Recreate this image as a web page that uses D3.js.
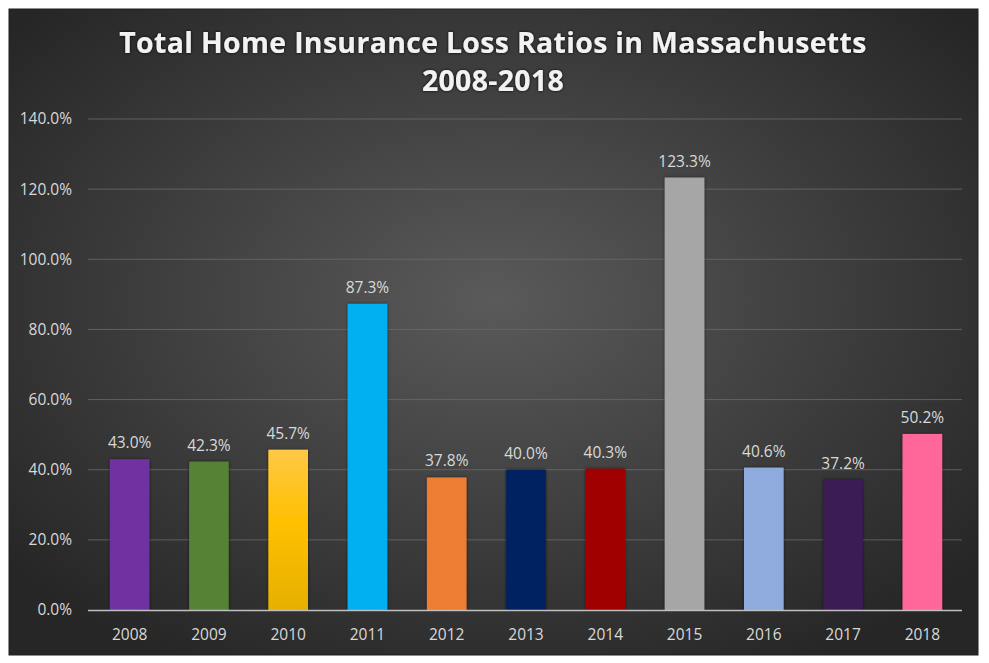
<!DOCTYPE html>
<html><head><meta charset="utf-8">
<script src="https://cdn.jsdelivr.net/npm/d3@7"></script>
<style>
html,body{margin:0;padding:0;background:#fff;}
svg{display:block;}
</style></head>
<body>
<svg id="chart" width="989" height="663"></svg>
<script>
const categories = ["2008","2009","2010","2011","2012","2013","2014","2015","2016","2017","2018"];
const values = [43.0, 42.3, 45.7, 87.3, 37.8, 40.0, 40.3, 123.3, 40.6, 37.2, 50.2];
const barColors = ["#7030a0","#548235","#ffc000","#00b0f0","#ed7d31","#002060","#a00000","#a6a6a6","#8faadc","#3b1a54","#ff6699"];
const yTicks = [0,20,40,60,80,100,120,140];
const titleLines = ["Total Home Insurance Loss Ratios in Massachusetts","2008-2018"];

const svg = d3.select("#chart");
const defs = svg.append("defs");
const bg = defs.append("radialGradient").attr("id","bg").attr("cx","50%").attr("cy","45%").attr("r","65%");
bg.append("stop").attr("offset","0%").attr("stop-color","#5a5a5a");
bg.append("stop").attr("offset","100%").attr("stop-color","#262626");
const gold = defs.append("linearGradient").attr("id","gold").attr("x1",0).attr("y1",0).attr("x2",0).attr("y2",1);
gold.append("stop").attr("offset","0%").attr("stop-color","#ffc845");
gold.append("stop").attr("offset","45%").attr("stop-color","#ffc000");
gold.append("stop").attr("offset","100%").attr("stop-color","#e6b000");
const sh = defs.append("filter").attr("id","shadow").attr("x","-20%").attr("y","-20%").attr("width","140%").attr("height","140%");
sh.append("feDropShadow").attr("dx",0).attr("dy",0).attr("stdDeviation",1.5).attr("flood-color","#000").attr("flood-opacity",0.6);
const tsh = defs.append("filter").attr("id","tshadow").attr("x","-5%").attr("y","-30%").attr("width","110%").attr("height","160%");
tsh.append("feDropShadow").attr("dx",0).attr("dy",0).attr("stdDeviation",1.6).attr("flood-color","#000").attr("flood-opacity",0.95);

svg.append("rect").attr("x",9).attr("y",9).attr("width",969).attr("height",646)
  .attr("fill","url(#bg)").attr("stroke","#1e1e1e").attr("stroke-width",1);

const x = d3.scaleBand().domain(categories).range([90,962]).paddingInner(0.5).paddingOuter(0.25);
const y = d3.scaleLinear().domain([0,140]).range([610,119]);
const font = "'Open Sans', sans-serif";
const fs = 15.5;

// gridlines
svg.append("g").selectAll("line").data(yTicks.filter(d=>d>0)).join("line")
  .attr("x1",88).attr("x2",962).attr("y1",d=>y(d)).attr("y2",d=>y(d))
  .attr("stroke","#6a6a6a").attr("stroke-width",1).attr("opacity",0.8);

// y axis labels
const yAxis = d3.axisLeft(y).tickValues(yTicks).tickFormat(d=>d.toFixed(1)+"%").tickSize(0).tickPadding(0);
const gy = svg.append("g").attr("transform","translate(72,0)").call(yAxis);
gy.select(".domain").remove();
gy.selectAll("text").attr("fill","#d9d9d9").attr("font-family",font).attr("font-size",fs);

// bars
svg.append("g").selectAll("rect").data(categories).join("rect")
  .attr("x",d=>x(d)).attr("width",x.bandwidth())
  .attr("y",(d,i)=>y(values[i])).attr("height",(d,i)=>y(0)-y(values[i]))
  .attr("fill",(d,i)=> i===2 ? "url(#gold)" : barColors[i])
  .attr("filter","url(#shadow)");

// baseline
svg.append("line").attr("x1",88).attr("x2",962).attr("y1",y(0)+0.5).attr("y2",y(0)+0.5)
  .attr("stroke","#bfbfbf").attr("stroke-width",1.5);

// x axis labels
const xAxis = d3.axisBottom(x).tickSize(0).tickPadding(0);
const gx = svg.append("g").attr("transform","translate(0,"+(y(0)+19)+")").call(xAxis);
gx.select(".domain").remove();
gx.selectAll("text").attr("fill","#d9d9d9").attr("font-family",font).attr("font-size",fs).attr("dy","0.71em");

// data labels
svg.append("g").selectAll("text").data(categories).join("text")
  .attr("x",d=>x(d)+x.bandwidth()/2).attr("y",(d,i)=>y(values[i])-11)
  .attr("text-anchor","middle").attr("fill","#d9d9d9")
  .attr("font-family",font).attr("font-size",fs)
  .text((d,i)=>values[i].toFixed(1)+"%");

// title
svg.append("g").selectAll("text").data(titleLines).join("text")
  .attr("x",493).attr("y",(d,i)=>53+i*38).attr("text-anchor","middle")
  .attr("fill","#f2f2f2").attr("font-family",font).attr("font-weight","bold").attr("font-size",28.5)
  .attr("filter","url(#tshadow)").attr("letter-spacing","0.3")
  .text(d=>d);
</script>
</body></html>
